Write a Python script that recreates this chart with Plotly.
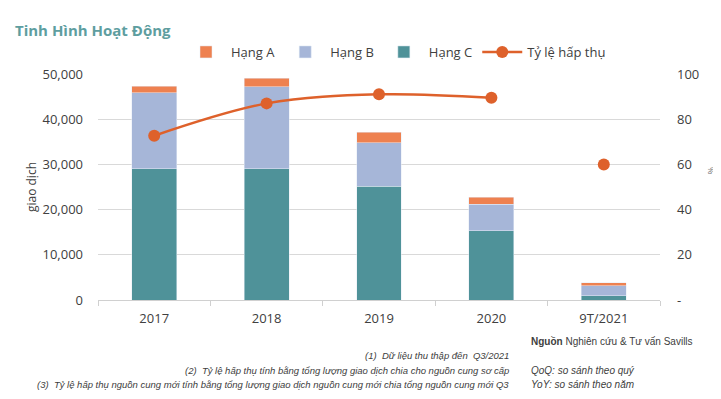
import plotly.graph_objects as go

categories = ["2017", "2018", "2019", "2020", "9T/2021"]
hang_a = [1400, 1900, 2300, 1500, 600]
hang_b = [16900, 18200, 9600, 5900, 2300]
hang_c = [29000, 29000, 25200, 15300, 900]
ty_le_hap_thu = [72.7, 87, 91, 89.5, 60]

left_ticks = [0, 10000, 20000, 30000, 40000, 50000]
right_tickvals = [0, 20, 40, 60, 80, 100]
right_ticktext = ["-", "20", "40", "60", "80", "100"]

C_A = "#EE8150"
C_B = "#A6B6D8"
C_C = "#4F9299"
C_LINE = "#DE612B"

# page offset caused by the default body margin
OFF = 8
W, H = 721 - OFF, 399 - OFF
# plot area in page pixels
PL, PR, PT, PB = 98, 660, 74, 300
L, R, T, B = PL - OFF, PR - OFF, PT - OFF, PB - OFF


def px(x):
    return (x - PL) / (PR - PL)


def py(y):
    return (PB - y) / (PB - PT)


fig = go.Figure()
fig.add_trace(go.Bar(x=categories, y=hang_c, name="Hạng C", marker_color=C_C, legendrank=3))
fig.add_trace(go.Bar(x=categories, y=hang_b, name="Hạng B", marker_color=C_B, legendrank=2))
fig.add_trace(go.Bar(x=categories, y=hang_a, name="Hạng A", marker_color=C_A, legendrank=1))
fig.add_trace(go.Scatter(
    x=categories[:4], y=ty_le_hap_thu[:4], name="Tỷ lệ hấp thụ", yaxis="y2",
    mode="lines+markers", line=dict(color=C_LINE, width=2.5, shape="spline", smoothing=1.0),
    marker=dict(size=12, color=C_LINE), legendrank=4))
fig.add_trace(go.Scatter(
    x=categories[4:], y=ty_le_hap_thu[4:], name="Tỷ lệ hấp thụ", yaxis="y2",
    mode="markers", marker=dict(size=12, color=C_LINE), showlegend=False))

font_main = "Open Sans, Noto Sans, sans-serif"
fig.update_layout(
    width=W, height=H,
    margin=dict(l=L, r=W - R, t=T, b=H - B, pad=0, autoexpand=False),
    paper_bgcolor="white", plot_bgcolor="white",
    barmode="stack", bargap=0.6,
    font=dict(family=font_main, size=12, color="#404040"),
    showlegend=True,
    legend=dict(orientation="h", traceorder="normal", x=px(396), xanchor="center", y=py(52),
                yanchor="middle", font=dict(size=13, color="#404040"), itemwidth=40,
                bgcolor="rgba(0,0,0,0)"),
    xaxis=dict(showgrid=False, showline=True, linecolor="#d0d0d0", linewidth=1,
               ticks="outside", tickson="boundaries", ticklen=5, tickcolor="#d0d0d0",
               tickfont=dict(size=13, color="#404040"), ticklabelstandoff=6),
    yaxis=dict(range=[0, 50000], tickvals=left_ticks, tickformat=",", showgrid=True,
               gridcolor="#d9d9d9", gridwidth=1, zeroline=False, showline=False,
               tickfont=dict(size=13, color="#404040"), ticklabelstandoff=14,
               title=dict(text="giao dịch", font=dict(size=12, color="#404040"), standoff=3)),
    yaxis2=dict(range=[0, 100], overlaying="y", side="right", tickvals=right_tickvals,
                ticktext=right_ticktext, showgrid=False, zeroline=False, showline=False,
                tickfont=dict(size=13, color="#404040"), ticklabelstandoff=16),
)

ann = []
ann.append(dict(text="<b>Tinh Hình Hoạt Động</b>", x=px(13), y=py(30), xanchor="left", yanchor="middle",
                font=dict(size=15, color="#5E9EA0", family=font_main)))
ann.append(dict(text="%", x=px(712), y=py(170), xanchor="center", yanchor="middle", textangle=90,
                font=dict(size=9, color="#707070")))
foot_font = dict(size=9.5, color="#404040", family="Liberation Sans Narrow, Liberation Sans, sans-serif")
side_font = dict(size=10, color="#404040", family="Liberation Sans Narrow, Liberation Sans, sans-serif")
for t, y in [("(1)  Dữ liệu thu thập đến  Q3/2021", 355),
             ("(2)  Tỷ lệ hấp thụ tính bằng tổng lượng giao dịch chia cho nguồn cung sơ cấp", 370),
             ("(3)  Tỷ lệ hấp thụ nguồn cung mới tính bằng tổng lượng giao dịch nguồn cung mới chia tổng nguồn cung mới Q3", 384)]:
    ann.append(dict(text="<i>" + t + "</i>", x=px(511), y=py(y), xanchor="right", yanchor="middle", font=foot_font))
for t, y in [("<i>QoQ: so sánh theo quý</i>", 370), ("<i>YoY: so sánh theo năm</i>", 384),
             ("<b>Nguồn</b> Nghiên cứu & Tư vấn Savills", 341)]:
    ann.append(dict(text=t, x=px(529), y=py(y), xanchor="left", yanchor="middle", font=side_font))
for a in ann:
    a.update(xref="paper", yref="paper", showarrow=False)
fig.update_layout(annotations=ann)

fig.write_html("out.html")
